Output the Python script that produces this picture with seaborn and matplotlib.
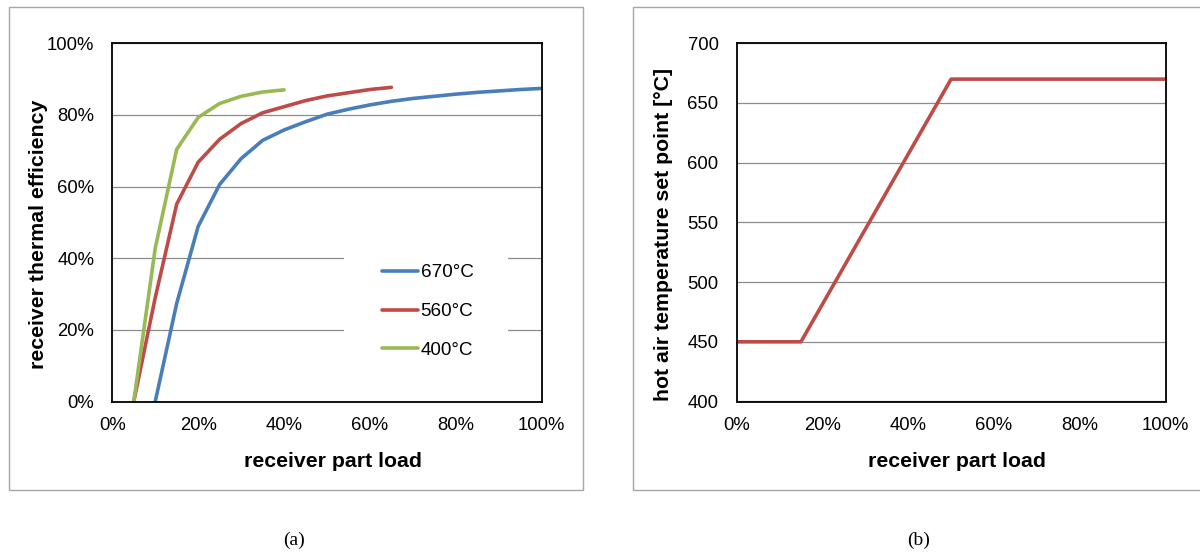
import numpy as np
import pandas as pd
import matplotlib
matplotlib.use("Agg")
import matplotlib.pyplot as plt
from matplotlib.patches import Rectangle
from matplotlib.ticker import PercentFormatter
import seaborn as sns

# ---- data -------------------------------------------------------------
# (a) receiver thermal efficiency [%] vs. receiver part load [%]
load_670 = [10, 15, 20, 25, 30, 35, 40, 45, 50, 55, 60, 65, 70, 75, 80, 85, 90, 95, 100]
eff_670 = [0, 27.4, 48.9, 60.6, 67.8, 72.9, 75.8, 78.1, 80.2, 81.6, 82.8, 83.8,
           84.6, 85.2, 85.8, 86.3, 86.7, 87.1, 87.4]
load_560 = [5, 10, 15, 20, 25, 30, 35, 40, 45, 50, 55, 60, 65]
eff_560 = [0, 29.0, 55.1, 66.8, 73.2, 77.6, 80.6, 82.3, 84.0, 85.3, 86.2, 87.1, 87.7]
load_400 = [5, 10, 15, 20, 25, 30, 35, 40]
eff_400 = [0, 42.8, 70.4, 79.3, 83.2, 85.2, 86.4, 87.0]
series_labels = ["670°C", "560°C", "400°C"]

# (b) hot air temperature set point [°C] vs. receiver part load [%]
setpoint_load = [0, 15, 50, 100]
setpoint_temp = [450, 450, 670, 670]

x_ticks = [0, 20, 40, 60, 80, 100]
eff_ticks = [0, 20, 40, 60, 80, 100]
temp_ticks = [400, 450, 500, 550, 600, 650, 700]

# ---- style ------------------------------------------------------------
sns.set_theme(style="white")
plt.rcParams["font.family"] = ["Liberation Sans", "DejaVu Sans"]
plt.rcParams["text.color"] = "black"
plt.rcParams["axes.labelcolor"] = "black"

W, H = 1200, 554
fig = plt.figure(figsize=(W / 100, H / 100), dpi=100)
fig.patch.set_facecolor("white")

colors = {"670°C": "#4A7EBB", "560°C": "#BE4B48", "400°C": "#98B954"}
TICK_FS = 13.3
LABEL_FS = 15.3
LW = 2.6


def px_axes(x0, y0, x1, y1):
    """Axes placed by pixel edges (top-left origin)."""
    return fig.add_axes([x0 / W, 1 - y1 / H, (x1 - x0) / W, (y1 - y0) / H])


def frame_box(x0, y0, x1, y1):
    fig.patches.append(Rectangle((x0 / W, 1 - y1 / H), (x1 - x0) / W, (y1 - y0) / H,
                                 transform=fig.transFigure, fill=False,
                                 edgecolor="#a6a6a6", linewidth=1.0, zorder=0))


def style_axes(ax):
    for s in ax.spines.values():
        s.set_visible(True)
        s.set_color("black")
        s.set_linewidth(1.3)
    ax.set_axisbelow(True)
    ax.grid(axis="y", color="#8c8c8c", linewidth=0.9)
    ax.grid(axis="x", visible=False)
    ax.tick_params(axis="both", length=0, labelsize=TICK_FS, colors="black")
    ax.tick_params(axis="y", pad=13)
    ax.tick_params(axis="x", pad=11)


# panel frames
frame_box(8.5, 7.5, 582.7, 490)
frame_box(632.7, 7.5, 1210, 490)

# ---- (a) efficiency curves --------------------------------------------
ax1 = px_axes(112.3, 43.3, 541.7, 401.5)
df = pd.concat([
    pd.DataFrame({"load": load_670, "eff": eff_670, "T": series_labels[0]}),
    pd.DataFrame({"load": load_560, "eff": eff_560, "T": series_labels[1]}),
    pd.DataFrame({"load": load_400, "eff": eff_400, "T": series_labels[2]}),
])
sns.lineplot(data=df, x="load", y="eff", hue="T", hue_order=series_labels,
             palette=colors, linewidth=LW, sort=False, ax=ax1, legend=True,
             solid_capstyle="round")
ax1.set_xlim(0, 100)
ax1.set_ylim(0, 100)
ax1.set_xticks(x_ticks)
ax1.set_yticks(eff_ticks)
ax1.xaxis.set_major_formatter(PercentFormatter(100, decimals=0))
ax1.yaxis.set_major_formatter(PercentFormatter(100, decimals=0))
style_axes(ax1)
ax1.set_xlabel("receiver part load", fontsize=LABEL_FS, fontweight="bold")
ax1.set_ylabel("receiver thermal efficiency", fontsize=LABEL_FS, fontweight="bold")
ax1.xaxis.set_label_coords(0.514, -0.14)
ax1.yaxis.set_label_coords(-0.150, 0.467)

# white area behind the legend hides the gridlines there
x0l, x1l, y0l, y1l = 344, 508, 240, 380
ax1.add_patch(Rectangle((x0l / W, 1 - y1l / H), (x1l - x0l) / W, (y1l - y0l) / H,
                        transform=fig.transFigure, facecolor="white",
                        edgecolor="none", zorder=1))
handles, labels = ax1.get_legend_handles_labels()
for h in handles:
    h.set_linewidth(LW)
ax1.legend(handles, labels, loc="center left",
           bbox_to_anchor=(381.5 / W, 1 - 311.5 / H), bbox_transform=fig.transFigure,
           frameon=False, fontsize=13.6, handlelength=1.95, handletextpad=0.12,
           labelspacing=1.15, borderpad=0, borderaxespad=0)

# ---- (b) temperature set point -----------------------------------------
ax2 = px_axes(736.6, 43.3, 1165.6, 401.5)
df2 = pd.DataFrame({"load": setpoint_load, "temp": setpoint_temp})
sns.lineplot(data=df2, x="load", y="temp", color="#BE4B48", linewidth=LW,
             sort=False, ax=ax2)
ax2.set_xlim(0, 100)
ax2.set_ylim(400, 700)
ax2.set_xticks(x_ticks)
ax2.set_yticks(temp_ticks)
ax2.xaxis.set_major_formatter(PercentFormatter(100, decimals=0))
style_axes(ax2)
ax2.set_xlabel("receiver part load", fontsize=LABEL_FS, fontweight="bold")
ax2.set_ylabel("hot air temperature set point [°C]", fontsize=LABEL_FS, fontweight="bold")
ax2.xaxis.set_label_coords(0.514, -0.14)
ax2.yaxis.set_label_coords(-0.149, 0.467)

# ---- captions ---------------------------------------------------------
for xc, txt in [(294, "(a)"), (919, "(b)")]:
    fig.text(xc / W, 1 - 540 / H, txt, ha="center", va="center", fontsize=14,
             family=["Liberation Serif", "DejaVu Serif"])

fig.savefig("out.png", dpi=100)
